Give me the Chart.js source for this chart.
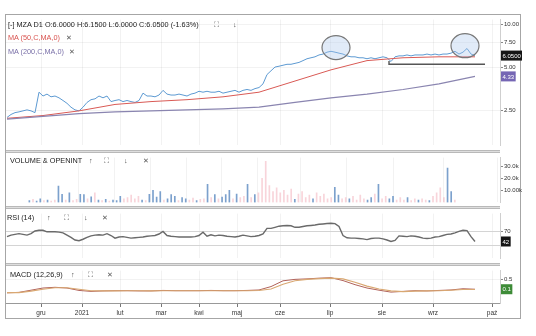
<!DOCTYPE html>
<html>
<head>
<meta charset="utf-8">
<script src="https://cdn.jsdelivr.net/npm/chart.js@4.4.1/dist/chart.umd.min.js"></script>
<style>
body{margin:0;background:#fff;width:536px;height:336px;overflow:hidden;position:relative;font-family:"Liberation Sans",Arial,sans-serif}
#frame{position:absolute;left:5px;top:14px;width:514px;height:303px;border:1.5px solid #a6a6a6}
canvas{position:absolute;left:6px}
.sep{position:absolute;left:6px;width:494px;height:1px;background:#dedede;border-top:1px solid #b9b9b9;border-bottom:1px solid #b9b9b9}
.hd{position:absolute;font-size:7.3px;line-height:8px;white-space:nowrap;transform:translateY(-50%)}
</style>
</head>
<body>
<div id="frame"></div>
<canvas id="cMain" width="516" height="135" style="top:15px"></canvas>
<div class="sep" style="top:150px"></div>
<canvas id="cVol" width="516" height="54" style="top:153px"></canvas>
<div class="sep" style="top:206px"></div>
<canvas id="cRsi" width="516" height="54" style="top:209px"></canvas>
<div class="sep" style="top:263px"></div>
<canvas id="cMacd" width="516" height="54" style="top:266px"></canvas>
<script>
// MZA D1 (jedna próbka co 2 sesje)
const price = [2.24,2.35,2.42,2.45,2.49,2.53,2.49,2.42,3.36,3.16,
  3.26,3.12,3.16,3.07,2.94,2.81,2.64,2.53,2.49,2.64,
  2.85,2.98,3.02,3.16,3.07,3.16,2.89,2.94,2.98,2.89,
  2.94,2.89,2.85,2.94,3.31,3.16,3.16,3.12,3.21,3.46,
  3.26,3.21,3.21,3.26,3.21,3.16,3.26,3.31,3.41,3.36,
  3.41,3.36,3.36,3.41,3.31,3.36,3.41,3.46,3.36,3.46,
  3.51,3.46,3.56,3.62,3.84,4.46,4.74,5.03,5.10,5.18,
  5.26,5.26,5.34,5.42,5.58,5.75,5.84,5.93,6.11,6.20,
  6.39,6.48,6.39,6.29,6.20,6.02,5.93,5.93,5.84,5.84,
  5.75,5.84,5.75,5.84,5.93,5.84,5.50,5.93,6.02,6.02,
  6.11,6.02,6.11,6.11,6.11,6.20,6.11,6.20,6.11,6.20,
  6.20,6.29,6.48,6.20,6.39,6.78,6.20,6.05];

// średnie co 9 próbek
const MA_STEP = 9;
const ma50 = [2.21,2.31,2.49,2.76,2.89,2.98,3.12,3.36,4.02,4.81,5.58,5.84,5.93,5.93];
const ma200 = [2.18,2.28,2.38,2.45,2.49,2.53,2.57,2.64,2.85,3.07,3.26,3.51,3.84,4.33];

// wolumen w tys., kierunek sesji u/d
const volume = [1.5,2.5,1.0,3.0,1.5,2.0,1.0,2.0,13.6,6.7,
  2.0,8.0,1.5,2.5,6.7,6.5,3.0,4.6,8.0,2.0,
  1.5,2.5,1.0,2.0,1.5,5.0,3.0,4.0,6.0,3.0,
  5.0,2.0,1.5,6.7,10.0,4.5,9.0,2.0,3.0,6.5,
  5.0,1.5,4.0,3.0,2.0,3.5,1.5,2.5,3.0,15.0,
  4.0,6.5,3.0,4.5,6.5,10.0,3.0,7.0,4.0,5.0,
  15.0,4.0,6.5,8.0,20.0,34.0,14.0,9.0,12.0,8.0,
  10.0,6.0,11.0,2.5,7.0,9.0,4.0,6.0,3.0,8.0,
  5.0,7.0,3.0,4.0,12.6,6.0,3.0,4.0,3.0,5.0,
  2.0,6.0,3.0,2.0,4.0,7.0,15.0,3.0,5.0,3.0,
  5.0,2.0,4.0,2.0,4.0,1.5,3.0,2.0,3.0,2.0,
  1.5,5.0,8.0,12.0,4.0,28.6,9.0,2.0];
const volDir = 'uduududduu' + 'dudduududu' + 'duduuudddd' + 'duduuuuduu' + 'uduudduddu' +
  'duduuududd' + 'ududdddddd' + 'ddduddddud' + 'dddduuddud' + 'ddduududdu' + 'uddduddudd' + 'udddduud';

const rsi = [55,59,61,63,61,59,63,70,72,72,
  68,68,68,67,65,59,53,46,44,48,
  53,57,59,60,59,63,58,51,54,55,
  53,51,52,53,54,56,57,58,62,69,
  58,56,55,54,54,54,54,55,58,67,
  56,60,57,59,58,56,55,54,56,59,
  57,55,56,58,62,77,77,80,83,84,
  85,84,80,80,82,84,85,86,88,89,
  90,91,90,82,58,52,51,51,50,49,
  47,50,51,51,49,46,42,45,57,56,
  55,57,56,54,51,50,51,54,55,58,
  61,62,65,69,72,71,55,42];

// MACD co 3 próbki
const MACD_STEP = 3;
const macd = [-0.06,-0.04,0.05,0.14,0.17,0.14,0.04,0.00,0.02,0.03,
  0.03,0.02,0.02,0.04,0.03,0.03,0.03,0.04,0.03,0.03,
  0.04,0.06,0.20,0.44,0.50,0.52,0.55,0.57,0.45,0.28,
  0.14,0.05,-0.03,0.00,0.03,0.02,0.04,0.06,0.11,0.09];
const signal = [-0.05,-0.05,0.01,0.09,0.15,0.15,0.09,0.03,0.02,0.02,
  0.03,0.03,0.02,0.03,0.03,0.03,0.03,0.03,0.03,0.03,
  0.03,0.04,0.10,0.30,0.44,0.50,0.53,0.55,0.52,0.38,
  0.22,0.10,0.02,-0.01,0.01,0.02,0.03,0.05,0.08,0.08];

const monthLabels = ['gru','2021','lut','mar','kwi','maj','cze','lip','sie','wrz','paź'];
const monthAt = [8.5,18.75,28.25,38.5,48,57.5,68.25,80.75,93.75,106.5,121.25];
const priceTicks = [2.5,5,7.5,10];
const volTicks = [10,20,30];
const volTickLabels = ['10.00k','20.0k','30.0k'];
const rsiLevels = [30,70];
const macdTicks = [0.5];

// rysunki użytkownika
const circles = [{x:82.25, y:6.88}, {x:114.5, y:7.09}];
const support = {from:95.5, to:119.5, level:5.26, start:5.55};

const X_MIN = -0.25, X_MAX = 123.25;
const FONT = '"Liberation Sans", Arial, sans-serif';
Chart.defaults.font.family = FONT;
Chart.defaults.animation = false;
Chart.defaults.plugins.legend.display = false;
Chart.defaults.plugins.tooltip.enabled = false;

const pts = (arr, step) => arr.map((v, i) => ({x: i * step, y: v}));

function xAxis(show) {
  return {
    type: 'linear', min: X_MIN, max: X_MAX,
    afterBuildTicks: s => { s.ticks = monthAt.map(v => ({value: v})); },
    afterFit: s => { s.height = show ? 17 : 0; },
    grid: {color: 'rgba(0,0,0,0.05)', drawTicks: show, tickLength: 4, tickColor: '#777'},
    border: {display: show, color: '#999'},
    ticks: {display: show, autoSkip: false, maxRotation: 0, padding: 2, color: '#333',
      font: {size: 6.5}, callback: (v, i) => monthLabels[i]}
  };
}

function yAxis(cfg) {
  return Object.assign({
    position: 'right',
    afterFit: s => { s.width = 22; },
    border: {display: true, color: '#cfcfcf'},
    grid: {color: cfg.gridColor || 'rgba(0,0,0,0.05)', tickLength: 3, tickColor: '#888'},
    ticks: {autoSkip: false, padding: 1, color: '#333', font: {size: 6}, callback: cfg.label}
  }, cfg.base);
}

const lastBox = {
  id: 'lastBox',
  afterDraw(chart, args, opts) {
    const ctx = chart.ctx, a = chart.chartArea, y = chart.scales.y;
    (opts.items || []).forEach(b => {
      const py = y.getPixelForValue(b.value);
      ctx.save();
      ctx.font = '6px ' + FONT;
      const w = ctx.measureText(b.text).width + 3;
      ctx.fillStyle = b.bg;
      ctx.fillRect(a.right + 1, py - 5, w, 10);
      ctx.fillStyle = '#fff';
      ctx.textBaseline = 'middle';
      ctx.fillText(b.text, a.right + 2.5, py + 0.5);
      ctx.restore();
    });
  }
};

const drawings = {
  id: 'drawings',
  afterDatasetsDraw(chart) {
    const ctx = chart.ctx, xs = chart.scales.x, ys = chart.scales.y;
    ctx.save();
    // linia wsparcia
    ctx.strokeStyle = '#555'; ctx.lineWidth = 1.4;
    ctx.beginPath();
    ctx.moveTo(xs.getPixelForValue(support.from), ys.getPixelForValue(support.start));
    ctx.lineTo(xs.getPixelForValue(support.from), ys.getPixelForValue(support.level));
    ctx.lineTo(xs.getPixelForValue(support.to), ys.getPixelForValue(support.level));
    ctx.stroke();
    circles.forEach(c => {
      ctx.beginPath();
      ctx.ellipse(xs.getPixelForValue(c.x), ys.getPixelForValue(c.y), 14, 12, 0, 0, Math.PI * 2);
      ctx.fillStyle = 'rgba(170,198,235,0.35)';
      ctx.fill();
      ctx.strokeStyle = '#777'; ctx.lineWidth = 1.2;
      ctx.stroke();
    });
    ctx.restore();
  }
};

const lineDs = (data, color, width) => ({type: 'line', data, borderColor: color, borderWidth: width,
  pointRadius: 0, tension: 0, fill: false});

const baseOpts = {responsive: false, devicePixelRatio: 1, layout: {padding: 0}};

new Chart(document.getElementById('cMain'), {
  type: 'line',
  data: {datasets: [
    lineDs(pts(ma200, MA_STEP), '#8a85b0', 1.2),
    lineDs(pts(ma50, MA_STEP), '#d95a55', 1),
    lineDs(pts(price, 1), '#5d9ad2', 1)
  ]},
  options: Object.assign({}, baseOpts, {
    scales: {
      x: xAxis(false),
      y: yAxis({base: {type: 'logarithmic', min: 1.43, max: 10.78,
        afterBuildTicks: s => { s.ticks = priceTicks.map(v => ({value: v})); }},
        label: v => v.toFixed(2)})
    },
    plugins: {lastBox: {items: [
      {value: price[price.length - 1], text: price[price.length - 1].toFixed(4), bg: '#151515'},
      {value: ma200[ma200.length - 1], text: ma200[ma200.length - 1].toFixed(2), bg: '#7566b4'}
    ]}}
  }),
  plugins: [drawings, lastBox]
});

new Chart(document.getElementById('cVol'), {
  type: 'bar',
  data: {datasets: [{
    data: pts(volume, 1),
    backgroundColor: volume.map((v, i) => volDir[i] === 'u' ? 'rgba(80,130,188,0.75)' : 'rgba(240,160,172,0.45)'),
    barThickness: 1
  }]},
  options: Object.assign({}, baseOpts, {
    scales: {
      x: xAxis(false),
      y: yAxis({base: {min: 0, max: 37.2,
        afterBuildTicks: s => { s.ticks = volTicks.map(v => ({value: v})); }},
        gridColor: 'rgba(0,0,0,0)',
        label: (v, i) => volTickLabels[i]})
    }
  })
});

new Chart(document.getElementById('cRsi'), {
  type: 'line',
  data: {datasets: [lineDs(pts(rsi, 1), '#6a6a6a', 1.4)]},
  options: Object.assign({}, baseOpts, {
    scales: {
      x: xAxis(false),
      y: yAxis({base: {min: -3.3, max: 116.7,
        afterBuildTicks: s => { s.ticks = rsiLevels.map(v => ({value: v})); }},
        gridColor: '#d4d4d4',
        label: v => v === 70 ? '70' : ''})
    },
    plugins: {lastBox: {items: [
      {value: rsi[rsi.length - 1], text: String(rsi[rsi.length - 1]), bg: '#151515'}
    ]}}
  }),
  plugins: [lastBox]
});

new Chart(document.getElementById('cMacd'), {
  type: 'line',
  data: {datasets: [
    lineDs(pts(signal, MACD_STEP), '#d9a872', 1.1),
    lineDs(pts(macd, MACD_STEP), '#b0625a', 1)
  ]},
  options: Object.assign({}, baseOpts, {
    scales: {
      x: xAxis(true),
      y: yAxis({base: {min: -0.482, max: 0.864,
        afterBuildTicks: s => { s.ticks = macdTicks.map(v => ({value: v})); }},
        label: v => v.toFixed(1)})
    },
    plugins: {lastBox: {items: [
      {value: macd[macd.length - 1], text: macd[macd.length - 1].toFixed(1), bg: '#3d8b37'}
    ]}}
  }),
  plugins: [lastBox]
});

// nagłówki paneli
const heads = [
  [8, 25, '[-] MZA D1 O:6.0000 H:6.1500 L:6.0000 C:6.0500 (-1.63%)', '#222'],
  [214, 25, '⛶', '#555'], [233, 25, '↓', '#555'],
  [8, 38, 'MA (50,C,MA,0)', '#d9534f'], [66, 38, '✕', '#555'],
  [8, 52, 'MA (200,C,MA,0)', '#7a70a8'], [69, 52, '✕', '#555'],
  [10, 161, 'VOLUME & OPENINT', '#222'], [89, 161, '↑', '#555'], [104, 161, '⛶', '#555'],
  [124, 161, '↓', '#555'], [143, 161, '✕', '#555'],
  [7, 218, 'RSI (14)', '#222'], [47, 218, '↑', '#555'], [64, 218, '⛶', '#555'],
  [84, 218, '↓', '#555'], [102, 218, '✕', '#555'],
  [10, 275, 'MACD (12,26,9)', '#222'], [71, 275, '↑', '#555'], [88, 275, '⛶', '#555'],
  [107, 275, '✕', '#555']
];
heads.forEach(([x, y, t, c]) => {
  const d = document.createElement('div');
  d.className = 'hd';
  d.style.left = x + 'px'; d.style.top = y + 'px'; d.style.color = c;
  d.textContent = t;
  document.body.appendChild(d);
});
</script>
</body>
</html>
